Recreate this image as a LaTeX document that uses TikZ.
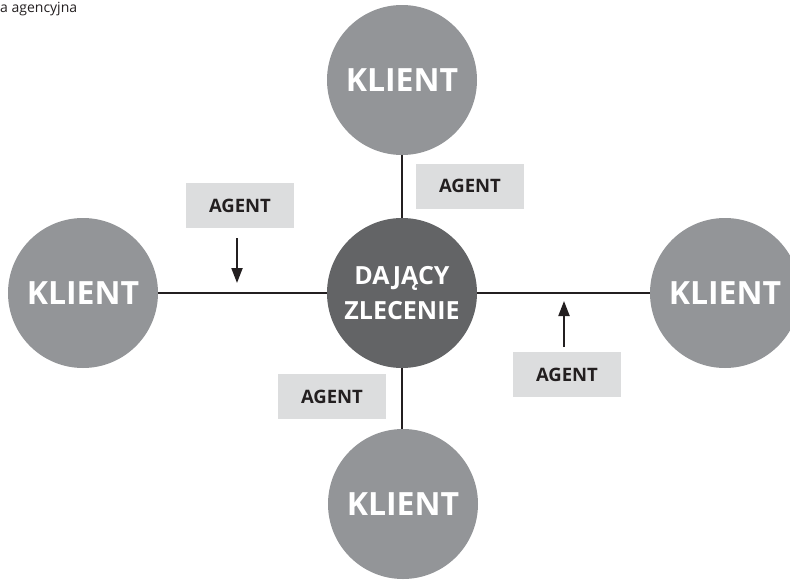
\documentclass[tikz,border=0pt]{standalone}
\usepackage{fontspec}
\setmainfont{Open Sans}
\usetikzlibrary{arrows.meta}
\definecolor{klientgray}{HTML}{939598}
\definecolor{centergray}{HTML}{636466}
\definecolor{boxgray}{HTML}{DCDDDE}
\definecolor{inkdark}{HTML}{231F20}
\begin{document}
\begin{tikzpicture}[x=1pt,y=-1pt,
  klientc/.style={circle, fill=klientgray, minimum size=150pt, inner sep=0pt,
    text=white, font=\fontsize{32}{32}\selectfont\bfseries},
  centerc/.style={circle, fill=centergray, minimum size=150pt, inner sep=0pt,
    text=white, align=center, font=\fontsize{25}{35}\selectfont\bfseries},
  agentbox/.style={rectangle, fill=boxgray, minimum width=108pt, minimum height=45pt,
    inner sep=0pt, text=inkdark, font=\fontsize{18.5}{18.5}\selectfont\bfseries},
  link/.style={draw=inkdark, line width=2pt},
  agarrow/.style={draw=inkdark, line width=2pt, -{Triangle[width=11pt,length=15pt]}}
]
\useasboundingbox (0,0) rectangle (790,581);
\clip (0,0) rectangle (790,581);

\node[anchor=base west, text=inkdark, font=\fontsize{14}{14}\selectfont, inner sep=0pt]
  (title) at (0,12) {a agencyjna};

\node[centerc] (center) at (402,293) {DAJĄCY\\ZLECENIE};
\node[klientc] (ktop) at (402,80) {KLIENT};
\node[klientc] (kleft) at (83,293) {KLIENT};
\node[klientc] (kright) at (725,293) {KLIENT};
\node[klientc] (kbottom) at (403,504) {KLIENT};

\draw[link] (kleft.east) -- (center.west);
\draw[link] (center.east) -- (kright.west);
\draw[link] (ktop.south -| center.north) -- (center.north);
\draw[link] (center.south) -- (center.south |- kbottom.north);

\node[agentbox] (ag1) at (240,205.5) {AGENT};
\node[agentbox] (ag2) at (470,186) {AGENT};
\node[agentbox] (ag3) at (332,396.5) {AGENT};
\node[agentbox] (ag4) at (567,374.5) {AGENT};

\coordinate (a1s) at (237,238);
\coordinate (a1e) at (237,283);
\coordinate (a4s) at (564,347);
\coordinate (a4e) at (564,301);
\draw[agarrow] (a1s) -- (a1e);
\draw[agarrow] (a4s) -- (a4e);
\end{tikzpicture}
\end{document}
